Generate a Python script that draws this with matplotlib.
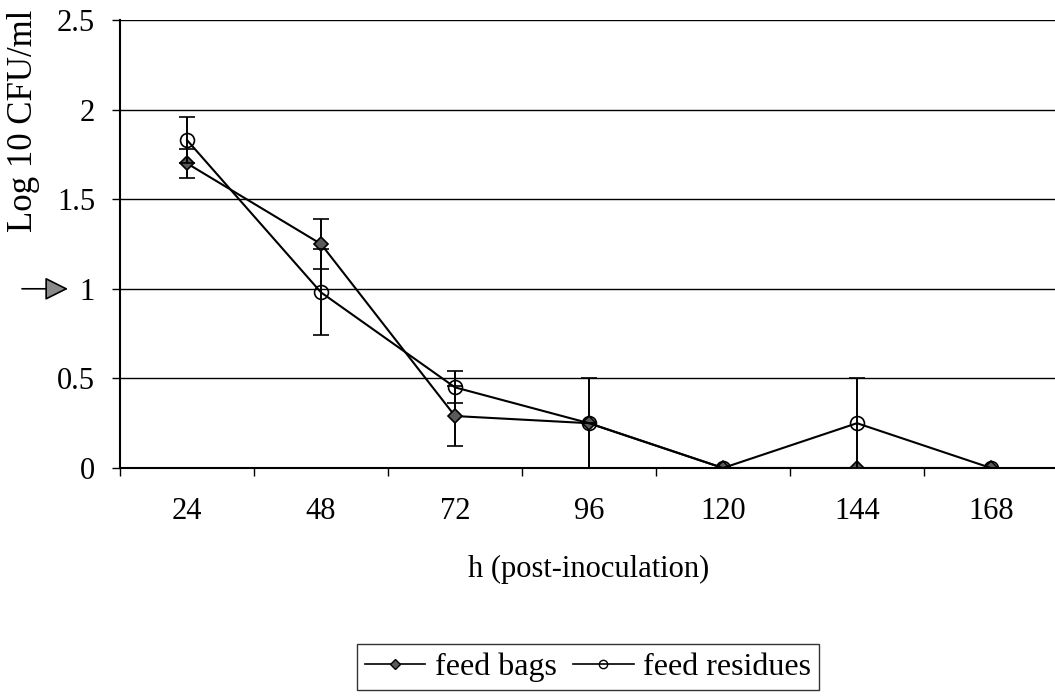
import numpy as np
import matplotlib
matplotlib.use('Agg')
import matplotlib.pyplot as plt
from matplotlib.lines import Line2D

hours = ['24', '48', '72', '96', '120', '144', '168']
feed_bags = [1.70, 1.25, 0.29, 0.25, 0.0, 0.0, 0.0]
feed_bags_err = [0.08, 0.14, 0.17, 0.25, 0.0, 0.0, 0.0]
feed_residues = [1.83, 0.98, 0.45, 0.25, 0.0, 0.25, 0.0]
feed_residues_err = [0.13, 0.24, 0.09, 0.0, 0.0, 0.25, 0.0]

plt.rcParams['font.family'] = ['Liberation Serif', 'DejaVu Serif']

fig = plt.figure(figsize=(10.55, 6.98), dpi=100)
ax = fig.add_axes([120 / 1055, 1 - 468 / 698, 938 / 1055, 448 / 698])

x = np.arange(len(hours))

ax.errorbar(x, feed_bags, yerr=feed_bags_err, color='black', lw=1.5,
            marker='D', ms=7, mfc='#5a5a5a', mec='black', mew=1.2,
            ecolor='black', elinewidth=1.4, capsize=5.5, capthick=1.4,
            zorder=3)
ax.errorbar(x, feed_residues, yerr=feed_residues_err, color='black', lw=1.5,
            marker='o', ms=10, mfc='none', mec='black', mew=1.2,
            ecolor='black', elinewidth=1.4, capsize=5.5, capthick=1.4,
            zorder=4)

ax.set_xlim(-0.5, len(hours) - 0.5)
ax.set_ylim(0, 2.5)
ax.set_yticks(np.arange(0, 2.51, 0.5))
ax.set_yticklabels(['0', '0.5', '1', '1.5', '2', '2.5'])
ax.set_xticks(x)
ax.set_xticklabels(hours)
ax.set_xticks(np.arange(-0.5, len(hours), 1.0), minor=True)

ax.tick_params(axis='x', which='major', length=0, pad=21, labelsize=22)
ax.tick_params(axis='x', which='minor', length=6, width=1, direction='out')
ax.tick_params(axis='y', length=6, width=1, direction='out', pad=12,
               labelsize=22)

ax.grid(axis='y', color='black', lw=1.0)
ax.set_axisbelow(True)
for side in ['top', 'right']:
    ax.spines[side].set_visible(False)
for side in ['left', 'bottom']:
    ax.spines[side].set_linewidth(1.5)

ax.set_xlabel('h (post-inoculation)', fontsize=22, labelpad=21)
fig.text(24 / 1055, 1 - 121 / 698, 'Log 10 CFU/ml', rotation=90,
         ha='center', va='center', fontsize=25)

# arrow marking the 1 log level
ax.annotate('', xy=(68, 1.0), xytext=(22, 1.0),
            xycoords=('figure pixels', 'data'),
            textcoords=('figure pixels', 'data'),
            arrowprops=dict(arrowstyle='-|>,head_length=0.8,head_width=0.4',
                            mutation_scale=18, fc='#8a8a8a', ec='black',
                            lw=1.2, shrinkA=0, shrinkB=0),
            annotation_clip=False)

handles = [
    Line2D([], [], color='black', lw=1.2, marker='D', ms=5,
           mfc='#5a5a5a', mec='black'),
    Line2D([], [], color='black', lw=1.2, marker='o', ms=6,
           mfc='none', mec='black'),
]
leg = fig.legend(handles, ['feed bags', 'feed residues'], loc='center',
                 bbox_to_anchor=(588 / 1055, 1 - 667 / 698), ncol=2,
                 fontsize=23, frameon=True, fancybox=False,
                 handlelength=1.9, handletextpad=0.3, columnspacing=0.5,
                 borderpad=0.25, borderaxespad=0)
leg.get_frame().set_edgecolor('black')
leg.get_frame().set_linewidth(1.0)

fig.savefig('out.png', dpi=100)
